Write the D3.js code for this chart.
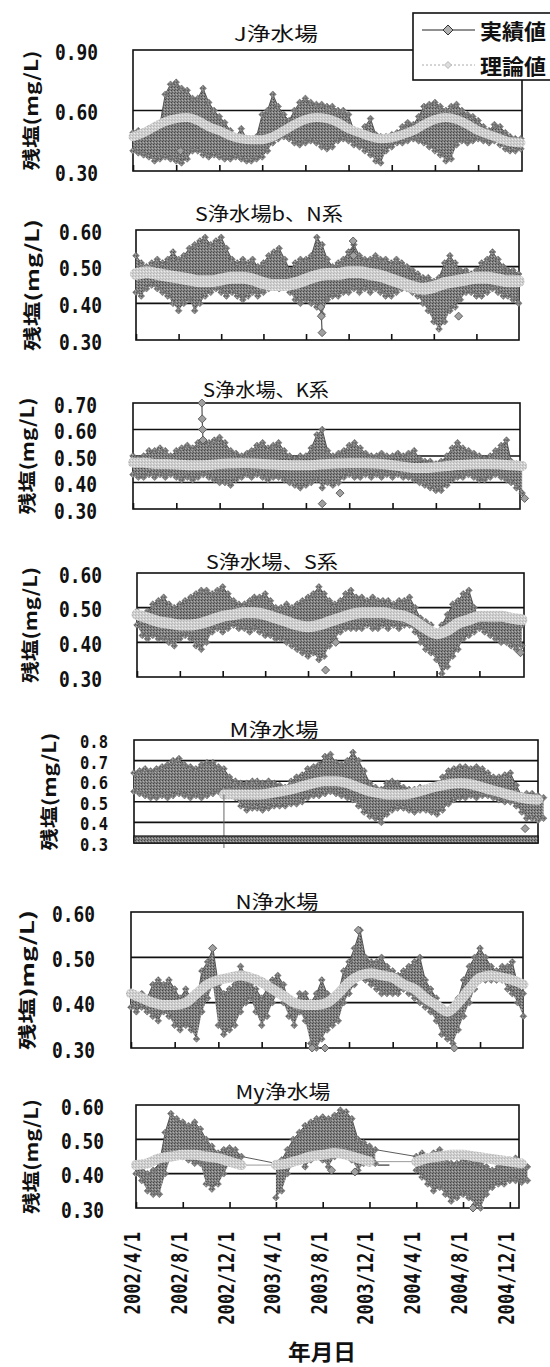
<!DOCTYPE html>
<html><head><meta charset="utf-8">
<script src="https://cdn.jsdelivr.net/npm/d3@7"></script>
<style>body{margin:0;background:#fff}svg{display:block}</style>
</head><body>
<svg id="c" width="550" height="1367"></svg>
<script>
// ---------------- DATA ----------------
const startDate = "2002-04-01";
const xTickLabels = ["2002/4/1","2002/8/1","2002/12/1","2003/4/1","2003/8/1","2003/12/1","2004/4/1","2004/8/1","2004/12/1"];
const xAxisTitle = "年月日";
const legendLabels = ["実績値","理論値"];
const panelTitles = ["J浄水場","S浄水場b、N系","S浄水場、K系","S浄水場、S系","M浄水場","N浄水場","My浄水場"];
const yAxisTitles = ["残塩(mg/L)","残塩(mg/L)","残塩(mg/L)","残塩(mg/L)","残塩(mg/L)","残塩)mg/L)","残塩(mg/L)"];

// theoretical values: 1st of each month from 2002/4
const jTheory = [0.47,0.49,0.52,0.545,0.56,0.565,0.55,0.52,0.50,0.475,0.46,0.455,0.455,0.47,0.50,0.53,0.555,0.565,0.56,0.54,0.51,0.49,0.47,0.46,0.465,0.48,0.50,0.53,0.555,0.565,0.555,0.53,0.50,0.48,0.46,0.445,0.44];
const sbnTheory = [0.48,0.485,0.48,0.475,0.47,0.465,0.46,0.46,0.465,0.47,0.47,0.465,0.455,0.45,0.45,0.455,0.465,0.475,0.48,0.48,0.485,0.485,0.48,0.475,0.465,0.455,0.445,0.44,0.445,0.455,0.46,0.465,0.47,0.47,0.465,0.46,0.46];
const skTheory = [0.475,0.475,0.47,0.47,0.468,0.465,0.465,0.466,0.47,0.472,0.473,0.472,0.47,0.468,0.466,0.465,0.465,0.467,0.47,0.472,0.473,0.473,0.472,0.47,0.465,0.46,0.455,0.455,0.458,0.462,0.466,0.468,0.47,0.47,0.468,0.465,0.462];
const ssTheory = [0.48,0.47,0.46,0.455,0.45,0.45,0.455,0.465,0.475,0.48,0.485,0.485,0.48,0.47,0.46,0.45,0.445,0.45,0.46,0.47,0.48,0.485,0.485,0.485,0.48,0.475,0.46,0.44,0.425,0.435,0.455,0.465,0.475,0.475,0.475,0.47,0.465];
const mTheory = [null,null,null,null,null,null,null,null,0.535,0.535,0.535,0.535,0.54,0.55,0.56,0.575,0.59,0.60,0.60,0.59,0.57,0.55,0.54,0.535,0.535,0.545,0.56,0.575,0.585,0.59,0.585,0.57,0.555,0.54,0.525,0.515,0.51];
const nTheory = [0.42,0.41,0.40,0.395,0.395,0.40,0.42,0.44,0.45,0.455,0.46,0.455,0.445,0.43,0.415,0.40,0.395,0.395,0.40,0.42,0.445,0.46,0.465,0.46,0.455,0.44,0.43,0.41,0.395,0.38,0.40,0.43,0.455,0.46,0.455,0.45,0.44];
const myTheory = [0.425,0.43,0.445,0.45,0.455,0.455,0.45,0.445,0.435,0.425,null,null,0.425,0.43,0.44,0.45,0.455,0.46,0.455,0.445,0.435,null,null,null,0.435,0.445,0.45,0.455,0.455,0.45,0.445,0.44,0.435,0.43];

// measured values: upper / lower envelope of the daily values, 1st and 16th of each month from 2002/4
const jHigh = [0.49,0.50,0.49,0.50,0.51,0.53,0.68,0.73,0.74,0.71,0.70,0.66,0.66,0.71,0.64,0.60,0.57,0.54,0.50,0.47,0.51,0.46,0.45,0.47,0.58,0.60,0.68,0.62,0.58,0.55,0.60,0.64,0.66,0.64,0.63,0.63,0.62,0.62,0.60,0.60,0.58,0.50,0.48,0.52,0.56,0.48,0.47,0.47,0.48,0.49,0.52,0.54,0.53,0.57,0.62,0.63,0.64,0.62,0.60,0.62,0.63,0.60,0.58,0.57,0.55,0.52,0.50,0.53,0.52,0.49,0.47,0.46,0.46];
const jLow = [0.40,0.39,0.38,0.37,0.35,0.36,0.37,0.36,0.35,0.34,0.36,0.40,0.40,0.38,0.37,0.38,0.37,0.36,0.36,0.37,0.36,0.35,0.35,0.36,0.37,0.40,0.44,0.46,0.47,0.46,0.44,0.43,0.44,0.45,0.44,0.42,0.41,0.42,0.45,0.46,0.45,0.43,0.42,0.40,0.38,0.35,0.34,0.40,0.42,0.44,0.44,0.45,0.46,0.45,0.44,0.42,0.40,0.38,0.35,0.36,0.43,0.45,0.44,0.45,0.46,0.45,0.44,0.45,0.43,0.41,0.40,0.40,0.41];
const sbnHigh = [0.53,0.51,0.50,0.51,0.52,0.51,0.52,0.54,0.52,0.53,0.55,0.56,0.57,0.58,0.56,0.57,0.58,0.55,0.52,0.51,0.52,0.51,0.52,0.50,0.51,0.53,0.54,0.55,0.52,0.49,0.51,0.52,0.52,0.53,0.58,0.56,0.52,0.50,0.51,0.52,0.54,0.56,0.53,0.52,0.52,0.53,0.52,0.52,0.51,0.52,0.51,0.50,0.49,0.48,0.47,0.47,0.46,0.47,0.51,0.53,0.51,0.49,0.49,0.48,0.49,0.51,0.52,0.54,0.52,0.50,0.49,0.49,0.48];
const sbnLow = [0.43,0.42,0.44,0.45,0.44,0.43,0.42,0.40,0.38,0.40,0.41,0.38,0.40,0.42,0.43,0.44,0.43,0.42,0.43,0.42,0.41,0.42,0.43,0.42,0.43,0.44,0.45,0.44,0.45,0.43,0.41,0.40,0.41,0.40,0.39,0.37,0.41,0.42,0.42,0.43,0.43,0.44,0.43,0.44,0.43,0.44,0.43,0.42,0.42,0.43,0.44,0.44,0.43,0.42,0.40,0.38,0.35,0.33,0.35,0.38,0.39,0.41,0.43,0.43,0.42,0.42,0.43,0.44,0.43,0.42,0.42,0.41,0.40];
const skHigh = [0.50,0.49,0.50,0.52,0.52,0.53,0.52,0.50,0.52,0.53,0.54,0.53,0.55,0.56,0.55,0.56,0.57,0.55,0.52,0.51,0.50,0.51,0.52,0.54,0.55,0.53,0.54,0.55,0.52,0.50,0.49,0.50,0.50,0.53,0.58,0.60,0.52,0.50,0.51,0.52,0.54,0.55,0.53,0.51,0.50,0.50,0.51,0.50,0.50,0.51,0.50,0.51,0.52,0.49,0.48,0.48,0.47,0.48,0.50,0.53,0.55,0.53,0.52,0.51,0.50,0.49,0.50,0.52,0.54,0.56,0.48,0.47,0.46];
const skLow = [0.43,0.42,0.42,0.43,0.42,0.43,0.42,0.43,0.42,0.41,0.42,0.41,0.42,0.43,0.42,0.41,0.40,0.40,0.39,0.41,0.42,0.43,0.42,0.43,0.42,0.41,0.42,0.42,0.41,0.40,0.39,0.38,0.39,0.40,0.41,0.38,0.40,0.39,0.40,0.42,0.43,0.42,0.42,0.43,0.42,0.43,0.42,0.43,0.42,0.43,0.42,0.42,0.41,0.40,0.39,0.38,0.37,0.37,0.39,0.41,0.42,0.42,0.43,0.42,0.41,0.41,0.42,0.43,0.42,0.41,0.40,0.38,0.36];
const ssHigh = [0.49,0.48,0.49,0.51,0.52,0.53,0.51,0.50,0.51,0.52,0.53,0.54,0.55,0.55,0.54,0.55,0.56,0.54,0.52,0.51,0.51,0.52,0.53,0.53,0.54,0.52,0.50,0.50,0.51,0.50,0.51,0.52,0.53,0.54,0.56,0.54,0.52,0.51,0.52,0.54,0.55,0.53,0.53,0.52,0.53,0.52,0.52,0.52,0.51,0.52,0.52,0.53,0.50,0.47,0.46,0.45,0.43,0.45,0.48,0.51,0.52,0.54,0.55,0.50,0.47,0.46,0.47,0.47,0.46,0.46,0.46,0.46,0.45];
const ssLow = [0.45,0.42,0.41,0.42,0.41,0.41,0.40,0.39,0.41,0.42,0.41,0.39,0.38,0.40,0.43,0.44,0.43,0.44,0.45,0.44,0.44,0.43,0.44,0.43,0.42,0.42,0.41,0.41,0.40,0.39,0.38,0.37,0.36,0.37,0.35,0.36,0.39,0.41,0.43,0.44,0.44,0.44,0.44,0.45,0.44,0.44,0.45,0.44,0.45,0.44,0.45,0.45,0.43,0.40,0.38,0.37,0.35,0.31,0.33,0.36,0.38,0.41,0.42,0.43,0.44,0.43,0.42,0.41,0.40,0.40,0.39,0.38,0.39];
const mHigh = [0.64,0.65,0.66,0.65,0.66,0.67,0.68,0.70,0.71,0.68,0.67,0.66,0.68,0.69,0.69,0.67,0.66,0.62,0.60,0.59,0.59,0.60,0.60,0.59,0.60,0.59,0.58,0.57,0.60,0.62,0.63,0.66,0.67,0.68,0.72,0.73,0.69,0.68,0.70,0.74,0.70,0.65,0.59,0.57,0.56,0.59,0.60,0.59,0.57,0.56,0.56,0.57,0.56,0.55,0.57,0.62,0.65,0.66,0.67,0.67,0.66,0.67,0.66,0.64,0.62,0.62,0.63,0.64,0.58,0.53,0.54,0.54,0.53,0.52];
const mLow = [0.55,0.54,0.53,0.52,0.52,0.53,0.52,0.53,0.54,0.53,0.52,0.53,0.52,0.53,0.54,0.55,0.56,0.56,0.52,0.48,0.46,0.47,0.47,0.46,0.47,0.48,0.48,0.48,0.49,0.49,0.50,0.52,0.53,0.53,0.54,0.55,0.54,0.53,0.52,0.51,0.48,0.45,0.43,0.42,0.40,0.44,0.46,0.47,0.47,0.46,0.45,0.46,0.46,0.45,0.44,0.46,0.49,0.51,0.52,0.52,0.53,0.52,0.53,0.53,0.52,0.51,0.50,0.50,0.48,0.45,0.42,0.42,0.41,0.42];
const nHigh = [0.42,0.41,0.42,0.41,0.44,0.45,0.44,0.45,0.43,0.41,0.43,0.41,0.40,0.47,0.49,0.52,0.44,0.42,0.43,0.44,0.48,0.46,0.44,0.43,0.41,0.43,0.45,0.46,0.44,0.40,0.39,0.42,0.42,0.40,0.42,0.45,0.42,0.40,0.42,0.47,0.49,0.52,0.56,0.50,0.49,0.49,0.50,0.48,0.47,0.46,0.47,0.48,0.49,0.50,0.45,0.43,0.41,0.39,0.38,0.37,0.41,0.45,0.48,0.50,0.52,0.50,0.48,0.47,0.48,0.48,0.49,0.44,0.42];
const nLow = [0.39,0.38,0.39,0.38,0.37,0.36,0.38,0.37,0.35,0.34,0.35,0.34,0.32,0.38,0.41,0.44,0.35,0.33,0.34,0.35,0.38,0.40,0.41,0.38,0.35,0.37,0.40,0.42,0.40,0.37,0.35,0.38,0.36,0.31,0.30,0.32,0.34,0.35,0.36,0.40,0.42,0.44,0.46,0.45,0.44,0.43,0.42,0.42,0.42,0.42,0.43,0.42,0.41,0.40,0.39,0.38,0.36,0.33,0.32,0.31,0.34,0.37,0.40,0.43,0.45,0.45,0.45,0.45,0.45,0.43,0.42,0.40,0.37];
const myHigh = [0.43,0.42,0.40,0.41,0.43,0.52,0.575,0.56,0.55,0.54,0.55,0.53,0.50,0.48,0.46,0.47,0.475,0.47,0.45,null,null,null,null,null,0.43,0.44,0.47,0.50,0.52,0.54,0.55,0.56,0.565,0.56,0.57,0.585,0.58,0.56,0.50,0.49,0.48,0.47,null,null,null,null,null,null,0.45,0.46,0.45,0.46,0.47,0.44,0.43,0.43,0.44,0.44,0.43,0.43,0.42,0.41,0.42,0.43,0.44,0.445,0.43,0.42];
const myLow = [0.40,0.38,0.35,0.34,0.34,0.40,0.45,0.46,0.45,0.44,0.43,0.43,0.37,0.355,0.37,0.40,0.43,0.44,0.43,null,null,null,null,null,0.33,0.35,0.40,0.43,0.44,0.42,0.44,0.45,0.44,0.42,0.45,0.46,0.47,0.44,0.41,0.43,0.43,0.43,null,null,null,null,null,null,0.41,0.39,0.37,0.35,0.36,0.34,0.32,0.33,0.34,0.33,0.31,0.30,0.34,0.36,0.37,0.37,0.38,0.38,0.375,0.38];

// isolated measured points (groups of consecutive days)
const jOutliers = [[["2002-08-13",0.40]]];
const sbnOutliers = [[["2003-09-12",0.39],["2003-09-14",0.365],["2003-09-16",0.32]],[["2003-12-14",0.57],["2003-12-15",0.53]],[["2004-10-11",0.365]]];
const skOutliers = [[["2002-10-12",0.70],["2002-10-13",0.64],["2002-10-14",0.60],["2002-10-15",0.56]],[["2003-09-16",0.32]],[["2003-11-05",0.36]],[["2005-04-08",0.34]]];
const ssOutliers = [[["2003-09-20",0.32]],[["2003-10-19",0.40]],[["2005-03-28",0.37]]];
const mOutliers = [[["2005-02-25",0.37]]];
const nOutliers = [[["2003-08-20",0.30]],[["2003-09-25",0.30]],[["2004-09-20",0.30]],[["2002-11-15",0.52]],[["2003-12-27",0.56]]];
const myOutliers = [[["2003-08-24",0.41]],[["2003-10-24",0.405]],[["2004-08-27",0.30]]];
const myGapSegment = [["2003-12-22",0.425],["2004-01-22",0.425]];

// ---------------- RENDER ----------------
const svg = d3.select("#c");
const defs = svg.append("defs");
function texture(id, base, dots){
  const p = defs.append("pattern").attr("id",id).attr("width",3).attr("height",3).attr("patternUnits","userSpaceOnUse");
  p.append("rect").attr("width",3).attr("height",3).attr("fill",base);
  dots.forEach(([x,y,c])=>p.append("rect").attr("x",x).attr("y",y).attr("width",1).attr("height",1).attr("fill",c));
}
texture("darkTex","#828282",[[0,0,"#454545"],[2,1,"#b0b0b0"],[1,2,"#5a5a5a"]]);
texture("lightTex","#d0d0d0",[[0,0,"#b2b2b2"],[2,1,"#ededed"],[1,2,"#bcbcbc"]]);

const parseIso = s => { const [y,m,d] = s.split("-").map(Number); return new Date(y, m-1, d); };
const parseSlash = s => { const [y,m,d] = s.split("/").map(Number); return new Date(y, m-1, d); };
const t0 = parseIso(startDate);
const halfMonthDate = k => new Date(t0.getFullYear(), t0.getMonth() + Math.floor(k/2), k % 2 ? 16 : 1);
const monthDate = m => new Date(t0.getFullYear(), t0.getMonth() + m, 1);
const tickDates = xTickLabels.map(parseSlash);
const diamond = r => `M0,${-r}L${r},0L0,${r}L${-r},0Z`;

const panels = [
  {theory:jTheory, high:jHigh, low:jLow, outliers:jOutliers, left:133,right:522,top:50,bottom:171,end:"2005-04-04",yDom:[0.3,0.9],yTicks:[0.3,0.6,0.9],grid:[0.6],fmt:".2f",labRight:98,labW:43,labFs:22,ytX:30,ytLen:120,tX:276,tY:32,tW:84,theoW:9},
  {theory:sbnTheory, high:sbnHigh, low:sbnLow, outliers:sbnOutliers, left:136,right:519,top:230,bottom:340,end:"2005-04-02",yDom:[0.3,0.6],yTicks:[0.3,0.4,0.5,0.6],grid:[0.4,0.5],fmt:".2f",labRight:102,labW:43,labFs:22,ytX:31,ytLen:132,tX:269,tY:212,tW:148,theoW:12},
  {theory:skTheory, high:skHigh, low:skLow, outliers:skOutliers, left:133,right:520,top:403,bottom:509,end:"2005-03-26",yDom:[0.3,0.7],yTicks:[0.3,0.4,0.5,0.6,0.7],grid:[0.4,0.5,0.6],fmt:".2f",labRight:97,labW:43,labFs:22,ytX:26,ytLen:117,tX:266,tY:388,tW:126,theoW:10},
  {theory:ssTheory, high:ssHigh, low:ssLow, outliers:ssOutliers, left:137,right:524,top:573,bottom:677,end:"2005-04-07",yDom:[0.3,0.6],yTicks:[0.3,0.4,0.5,0.6],grid:[0.4,0.5],fmt:".2f",labRight:102,labW:43,labFs:22,ytX:29,ytLen:116,tX:272,tY:560,tW:132,theoW:11},
  {theory:mTheory, high:mHigh, low:mLow, outliers:mOutliers, left:134,right:538,top:740,bottom:843,end:"2005-04-01",yDom:[0.3,0.8],yTicks:[0.3,0.4,0.5,0.6,0.7,0.8],grid:[0.4,0.5,0.6,0.7],fmt:".1f",labRight:108,labW:28,labFs:17,ytX:48,ytLen:118,tX:274,tY:728,tW:89,theoW:10,bottomBar:true,dropLine:true},
  {theory:nTheory, high:nHigh, low:nLow, outliers:nOutliers, left:131,right:523,top:912,bottom:1048,end:"2005-03-31",yDom:[0.3,0.6],yTicks:[0.3,0.4,0.5,0.6],grid:[0.4,0.5],fmt:".2f",labRight:95,labW:43,labFs:22,ytX:26,ytLen:140,tX:277,tY:900,tW:83,theoW:10},
  {theory:myTheory, high:myHigh, low:myLow, outliers:myOutliers, gapSeg:myGapSegment, left:136,right:519,top:1105,bottom:1208,end:"2004-12-25",yDom:[0.3,0.6],yTicks:[0.3,0.4,0.5,0.6],grid:[0.4,0.5],fmt:".2f",labRight:104,labW:43,labFs:22,ytX:30,ytLen:115,tX:283,tY:1090,tW:95,theoW:10,xLabels:true}
];

const INK = "#111";
panels.forEach((P, i) => {
  const g = svg.append("g");
  const x = d3.scaleTime().domain([t0, parseIso(P.end)]).range([P.left, P.right]);
  const y = d3.scaleLinear().domain(P.yDom).range([P.bottom, P.top]);

  g.selectAll("line.grid").data(P.grid).join("line").attr("class","grid")
    .attr("x1",P.left).attr("x2",P.right).attr("y1",d=>y(d)).attr("y2",d=>y(d))
    .attr("stroke",INK).attr("stroke-width",1.6);
  g.append("rect").attr("x",P.left).attr("y",P.top).attr("width",P.right-P.left).attr("height",P.bottom-P.top)
    .attr("fill","none").attr("stroke",INK).attr("stroke-width",1.6);
  const ax = g.append("g").attr("transform",`translate(0,${P.bottom})`)
    .call(d3.axisBottom(x).tickValues(tickDates).tickSize(-6).tickFormat(""));
  ax.select(".domain").remove();
  ax.selectAll(".tick line").attr("stroke",INK).attr("stroke-width",1.6);

  const yfmt = d3.format(P.fmt);
  g.selectAll("text.ylab").data(P.yTicks).join("text").attr("class","ylab")
    .attr("x",P.labRight).attr("y",d=>y(d)+2)
    .attr("text-anchor","end").attr("dominant-baseline","central")
    .attr("font-family","'DejaVu Sans Mono', monospace").attr("font-weight","bold")
    .attr("font-size",P.labFs).attr("textLength",P.labW).attr("lengthAdjust","spacingAndGlyphs")
    .attr("fill",INK).text(d=>yfmt(d));

  g.append("text").attr("transform",`translate(${P.ytX},${(P.top+P.bottom)/2}) rotate(-90)`)
    .attr("text-anchor","middle").attr("dominant-baseline","central")
    .attr("font-family","'Noto Sans CJK JP', sans-serif").attr("font-weight","bold").attr("font-size",18)
    .attr("textLength",P.ytLen).attr("lengthAdjust","spacingAndGlyphs").attr("fill",INK)
    .text(yAxisTitles[i]);

  g.append("text").attr("x",P.tX).attr("y",P.tY).attr("text-anchor","middle").attr("dominant-baseline","central")
    .attr("font-family","'Noto Sans CJK JP', sans-serif").attr("font-size",19)
    .attr("textLength",P.tW).attr("lengthAdjust","spacingAndGlyphs").attr("fill",INK)
    .text(panelTitles[i]);

  const pts = P.high.map((h,k)=>({d:halfMonthDate(k), hi:h, lo:P.low[k]}));
  const ok = p => p.hi != null && p.lo != null;
  g.append("path").datum(pts)
    .attr("d", d3.area().defined(ok).x(p=>x(p.d)).y0(p=>y(p.lo)).y1(p=>y(p.hi)))
    .attr("fill","url(#darkTex)");
  g.append("path").datum(pts.filter(ok))
    .attr("d", d3.line().x(p=>x(p.d)).y(p=>y(p.hi)))
    .attr("fill","none").attr("stroke","#4a4a4a").attr("stroke-width",0.9);
  const edge = pts.filter(ok).flatMap(p=>[[p.d,p.hi],[p.d,p.lo]]);
  g.selectAll("path.em").data(edge).join("path").attr("class","em")
    .attr("d",diamond(3.4)).attr("transform",d=>`translate(${x(d[0])},${y(d[1])})`)
    .attr("fill","url(#darkTex)").attr("stroke","#666").attr("stroke-width",0.5);

  if (P.gapSeg) {
    g.append("path").datum(P.gapSeg.map(([d,v])=>[parseIso(d),v]))
      .attr("d", d3.line().x(d=>x(d[0])).y(d=>y(d[1])))
      .attr("fill","none").attr("stroke","#333").attr("stroke-width",1.2);
  }

  P.outliers.forEach(grp => {
    const gp = grp.map(([d,v])=>[parseIso(d),v]);
    if (gp.length > 1) g.append("path").datum(gp).attr("d", d3.line().x(d=>x(d[0])).y(d=>y(d[1])))
      .attr("fill","none").attr("stroke","#555").attr("stroke-width",1.2);
    g.selectAll(null).data(gp).join("path").attr("d",diamond(4))
      .attr("transform",d=>`translate(${x(d[0])},${y(d[1])})`)
      .attr("fill","#a0a0a0").attr("stroke","#555").attr("stroke-width",0.9);
  });

  const tp = P.theory.map((v,m)=>({d:monthDate(m), v}));
  const tdef = tp.filter(p=>p.v!=null);
  g.append("path").datum(tdef).attr("d", d3.line().x(p=>x(p.d)).y(p=>y(p.v)))
    .attr("fill","none").attr("stroke","#9a9a9a").attr("stroke-width",1);
  g.append("path").datum(tp)
    .attr("d", d3.line().defined(p=>p.v!=null).curve(d3.curveMonotoneX).x(p=>x(p.d)).y(p=>y(p.v)))
    .attr("fill","none").attr("stroke","url(#lightTex)").attr("stroke-width",P.theoW).attr("stroke-linecap","round");

  if (P.dropLine) {
    const f = tdef[0];
    g.append("line").attr("x1",x(f.d)).attr("x2",x(f.d)).attr("y1",y(f.v)).attr("y2",P.bottom+5)
      .attr("stroke","#666").attr("stroke-width",1);
  }
  if (P.bottomBar) {
    g.append("rect").attr("x",P.left).attr("y",P.bottom-7).attr("width",P.right-P.left).attr("height",7)
      .attr("fill","url(#darkTex)").attr("stroke",INK).attr("stroke-width",1.2);
  }

  if (P.xLabels) {
    g.selectAll("text.xl").data(tickDates).join("text").attr("class","xl")
      .attr("transform",d=>`translate(${x(d)+4},1232) rotate(-90)`)
      .attr("text-anchor","end")
      .attr("font-family","'DejaVu Sans Mono', monospace").attr("font-weight","bold").attr("font-size",22)
      .attr("textLength",(d,j)=>xTickLabels[j].length*10.3).attr("lengthAdjust","spacingAndGlyphs")
      .attr("fill",INK).text((d,j)=>xTickLabels[j]);
    svg.append("text").attr("x",322).attr("y",1350).attr("text-anchor","middle").attr("dominant-baseline","central")
      .attr("font-family","'Noto Sans CJK JP', sans-serif").attr("font-weight","bold").attr("font-size",22)
      .attr("textLength",68).attr("lengthAdjust","spacingAndGlyphs").attr("fill",INK).text(xAxisTitle);
  }
});

// legend
const lg = svg.append("g");
lg.append("rect").attr("x",413).attr("y",13).attr("width",150).attr("height",67)
  .attr("fill","#fff").attr("stroke",INK).attr("stroke-width",1.6);
const legY = [30, 65];
lg.append("line").attr("x1",422).attr("x2",475).attr("y1",legY[0]).attr("y2",legY[0]).attr("stroke","#222").attr("stroke-width",1);
lg.append("path").attr("d",diamond(5)).attr("transform",`translate(448,${legY[0]})`).attr("fill","#b0b0b0").attr("stroke","#333").attr("stroke-width",1);
lg.append("line").attr("x1",422).attr("x2",475).attr("y1",legY[1]).attr("y2",legY[1]).attr("stroke","#aaa").attr("stroke-width",1).attr("stroke-dasharray","2,2");
lg.append("path").attr("d",diamond(3.5)).attr("transform",`translate(448,${legY[1]})`).attr("fill","#ddd").attr("stroke","#aaa").attr("stroke-width",0.8);
lg.selectAll("text").data(legendLabels).join("text")
  .attr("x",480).attr("y",(d,i)=>legY[i]).attr("dominant-baseline","central")
  .attr("font-family","'Noto Sans CJK JP', sans-serif").attr("font-weight","bold").attr("font-size",21)
  .attr("textLength",66).attr("lengthAdjust","spacingAndGlyphs").attr("fill",INK).text(d=>d);
</script>
</body></html>
